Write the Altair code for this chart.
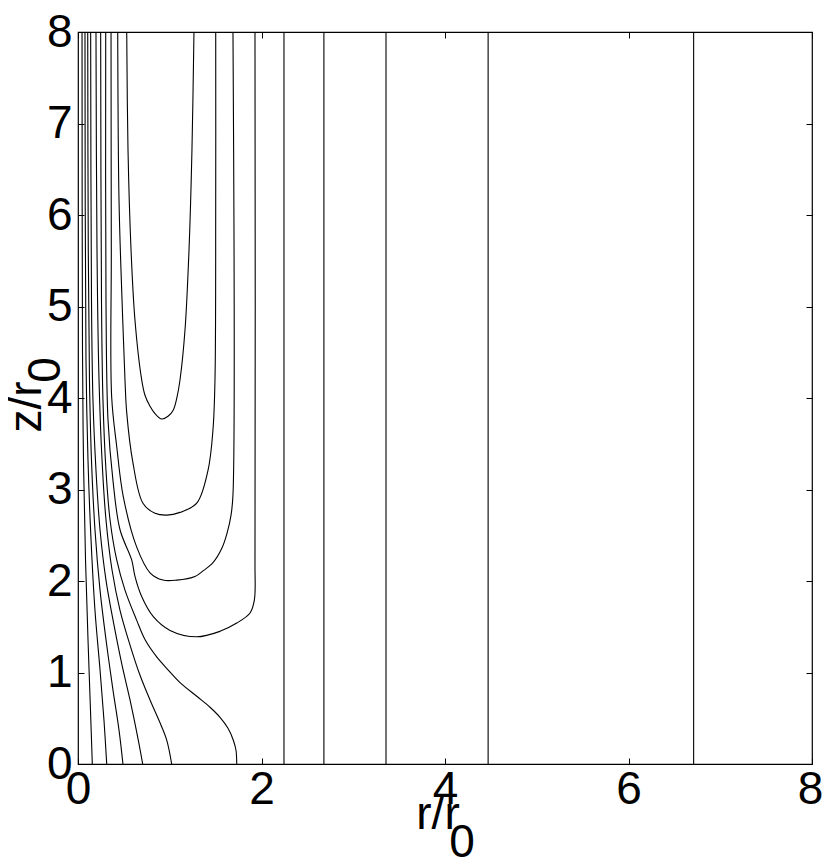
import altair as alt
import pandas as pd

# ---- contour lines, (r/r0, z/r0) ----
# lines that start on the base z = 0
b1_r = [0.156, 0.136, 0.109, 0.082, 0.060, 0.049, 0.044]
b1_z = [0.00, 0.59, 1.36, 2.23, 3.32, 4.52, 8.00]
b2_r = [0.313, 0.283, 0.240, 0.185, 0.142, 0.109, 0.087, 0.076]
b2_z = [0.00, 0.48, 1.03, 1.68, 2.45, 3.32, 4.42, 8.00]
b3_r = [0.490, 0.447, 0.381, 0.305, 0.240, 0.185, 0.147, 0.125, 0.112, 0.106]
b3_z = [0.00, 0.37, 0.81, 1.36, 1.90, 2.56, 3.32, 4.20, 5.62, 8.00]
b4_r = [0.705, 0.657, 0.567, 0.480, 0.392, 0.305, 0.240, 0.196, 0.163, 0.147, 0.138]
b4_z = [0.00, 0.26, 0.70, 1.08, 1.52, 2.01, 2.56, 3.21, 3.98, 5.07, 8.00]
b5_r = [1.021, 0.967, 0.894, 0.785, 0.676, 0.567, 0.458, 0.371, 0.305, 0.262, 0.229, 0.207, 0.196]
b5_z = [0.00, 0.26, 0.45, 0.70, 0.97, 1.30, 1.68, 2.12, 2.67, 3.32, 4.20, 5.62, 8.00]
b6_r = [1.730, 1.722, 1.693, 1.635, 1.548, 1.439, 1.308, 1.112, 0.981, 0.858, 0.730,
        0.640, 0.512, 0.422, 0.349, 0.305, 0.272, 0.256, 0.247]
b6_z = [0.00, 0.15, 0.26, 0.39, 0.51, 0.62, 0.73, 0.89, 1.03, 1.17, 1.36,
        1.57, 1.90, 2.23, 2.67, 3.21, 3.98, 5.07, 8.00]

# U-shaped lines that enter and leave through the top
u1_r = [0.531, 0.545, 0.578, 0.621, 0.694, 0.730, 0.785, 0.839, 0.912, 0.981, 1.039,
        1.079, 1.112, 1.166, 1.210, 1.242, 1.264]
u1_z = [8.00, 6.71, 5.62, 4.85, 4.20, 4.03, 3.91, 3.83, 3.77, 3.80, 3.87,
        4.01, 4.20, 4.74, 5.62, 6.71, 8.00]
u2_r = [0.433, 0.447, 0.480, 0.512, 0.531, 0.599, 0.708, 0.839, 0.967, 1.112, 1.294,
        1.417, 1.471, 1.493, 1.501, 1.501]
u2_z = [8.00, 6.16, 5.07, 4.20, 3.84, 3.29, 2.85, 2.74, 2.72, 2.75, 2.85,
        3.21, 3.65, 4.20, 6.16, 8.00]
u3_r = [0.360, 0.363, 0.367, 0.422, 0.494, 0.640, 0.785, 0.926, 1.076, 1.275, 1.362,
        1.471, 1.569, 1.624, 1.668, 1.689, 1.689]
u3_z = [8.00, 5.62, 4.01, 3.47, 2.92, 2.37, 2.09, 2.01, 2.01, 2.05, 2.11,
        2.20, 2.36, 2.52, 2.72, 2.94, 8.00]
u4_r = [0.302, 0.305, 0.327, 0.381, 0.458, 0.585, 0.621, 0.694, 0.821, 1.003, 1.294,
        1.548, 1.730, 1.875, 1.922, 1.929, 1.929]
u4_z = [8.00, 5.07, 3.76, 3.10, 2.56, 2.23, 2.05, 1.83, 1.61, 1.46, 1.39,
        1.45, 1.54, 1.65, 1.79, 2.23, 8.00]

# straight vertical lines further out
vertical_r = [2.245, 2.68, 3.357, 4.47, 6.71]

x_ticks = [0, 2, 4, 6, 8]
y_ticks = [0, 1, 2, 3, 4, 5, 6, 7, 8]

curves = {
    "b1": (b1_r, b1_z), "b2": (b2_r, b2_z), "b3": (b3_r, b3_z),
    "b4": (b4_r, b4_z), "b5": (b5_r, b5_z), "b6": (b6_r, b6_z),
    "u1": (u1_r, u1_z), "u2": (u2_r, u2_z), "u3": (u3_r, u3_z), "u4": (u4_r, u4_z),
}
for i, rv in enumerate(vertical_r):
    curves[f"v{i}"] = ([rv, rv], [0.0, 8.0])

rows = []
for name, (rs, zs) in curves.items():
    for k, (r, z) in enumerate(zip(rs, zs)):
        rows.append({"curve": name, "k": k, "r": r, "z": z})
df = pd.DataFrame(rows)

FONT = "Liberation Sans"
FS = 46
W, H = 734, 732

xs = alt.Scale(domain=[0, 8], nice=False, zero=False)
ys = alt.Scale(domain=[0, 8], nice=False, zero=False)

common = dict(grid=False, domain=False, ticks=True, tickSize=6, tickColor="black",
              tickWidth=1, offset=-6, title=None, labelFont=FONT, labelFontSize=FS,
              labelColor="black", labelFlush=False, labelOverlap=False, format="d")

lines = alt.Chart(df).mark_line(color="black", strokeWidth=1.1, clip=True,
                                interpolate="catmull-rom").encode(
    x=alt.X("r:Q", scale=xs, axis=alt.Axis(
        orient="bottom", values=x_ticks, labelPadding=3,
        labelOffset={"condition": {"test": "datum.value == 8", "value": -2}, "value": 0},
        **common)),
    y=alt.Y("z:Q", scale=ys, axis=alt.Axis(orient="left", values=y_ticks,
                                           labelPadding=6, **common)),
    detail="curve:N",
    order="k:Q",
)

mirror_common = dict(common)
mirror_common["labels"] = False
mirror = alt.Chart(df).mark_point(opacity=0).encode(
    x=alt.X("r:Q", scale=xs, axis=alt.Axis(orient="top", values=x_ticks, **mirror_common)),
    y=alt.Y("z:Q", scale=ys, axis=alt.Axis(orient="right", values=y_ticks, **mirror_common)),
)

xt = pd.DataFrame({"t": ["r/r"]})
xt0 = pd.DataFrame({"t": ["0"]})
yt = pd.DataFrame({"t": ["z/r"]})
yt0 = pd.DataFrame({"t": ["0"]})

x_title = alt.Chart(xt).mark_text(font=FONT, fontSize=FS, color="black", align="center",
                                  baseline="alphabetic").encode(
    x=alt.value(360), y=alt.value(797), text="t:N")
x_title0 = alt.Chart(xt0).mark_text(font=FONT, fontSize=FS, color="black", align="center",
                                    baseline="alphabetic").encode(
    x=alt.value(384), y=alt.value(825), text="t:N")
y_title = alt.Chart(yt).mark_text(font=FONT, fontSize=FS, color="black", align="center",
                                  baseline="alphabetic", angle=270).encode(
    x=alt.value(-37), y=alt.value(375), text="t:N")
y_title0 = alt.Chart(yt0).mark_text(font=FONT, fontSize=FS, color="black", align="center",
                                    baseline="alphabetic", angle=270).encode(
    x=alt.value(-18), y=alt.value(338), text="t:N")

chart = alt.layer(lines, mirror, x_title, x_title0, y_title, y_title0).resolve_axis(
    x="independent", y="independent"
).properties(
    width=W, height=H,
    padding={"left": 70, "top": 24, "right": 10, "bottom": 94},
    autosize=alt.AutoSizeParams(type="none"),
    background="white",
).configure_view(stroke="black", strokeWidth=1.2)

chart.save("out.html", embed_options={"renderer": "svg", "actions": False})
